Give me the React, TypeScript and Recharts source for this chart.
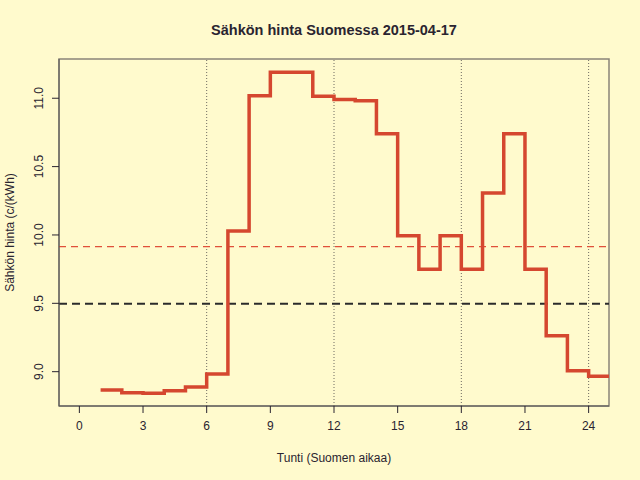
import React from "react";
import {
  LineChart,
  Line,
  XAxis,
  YAxis,
  ReferenceLine,
  ReferenceArea,
  Label,
} from "recharts";

// hourly spot price, c/kWh (hour 25 repeats the last hour so the step runs to the edge)
const hours = [1, 2, 3, 4, 5, 6, 7, 8, 9, 10, 11, 12, 13, 14, 15, 16, 17, 18, 19, 20, 21, 22, 23, 24, 25];
const prices = [
  8.866, 8.846, 8.842, 8.861, 8.888, 8.983, 10.029, 11.019, 11.19, 11.19, 11.014, 10.99,
  10.982, 10.741, 9.995, 9.749, 9.995, 9.749, 10.307, 10.741, 9.749, 9.263, 9.007, 8.966, 8.966,
];
const xTicks = [0, 3, 6, 9, 12, 15, 18, 21, 24];
const yTicks = [9.0, 9.5, 10.0, 10.5, 11.0];
const gridHours = [6, 12, 18, 24];
const dayMean = 9.914;
const refMean = 9.497;

const xDomain: [number, number] = [-0.96, 24.96];
const yDomain: [number, number] = [8.749, 11.287];

const data = hours.map((h, i) => ({ hour: h, price: prices[i] }));

const FONT = "'Liberation Sans', Arial, sans-serif";
const BG = "#FFFACD";
const INK = "#2a2430";

const YTick = ({ x, y, payload }: { x?: number; y?: number; payload?: { value: number } }) => (
  <text
    x={(x ?? 0) - 7}
    y={y}
    transform={`rotate(-90, ${(x ?? 0) - 7}, ${y})`}
    textAnchor="middle"
    fontSize={12}
    fontFamily={FONT}
    fill={INK}
  >
    {payload ? payload.value.toFixed(1) : ""}
  </text>
);

export default function App() {
  return (
    <div style={{ position: "fixed", left: 0, top: 0, width: 640, height: 480, background: BG }}>
      <div
        style={{
          position: "absolute",
          left: 59,
          width: 550,
          top: 22,
          textAlign: "center",
          fontFamily: FONT,
          fontWeight: "bold",
          fontSize: 14.5,
          color: INK,
        }}
      >
        Sähkön hinta Suomessa 2015-04-17
      </div>
      <LineChart width={640} height={480} data={data} margin={{ top: 59, right: 31, bottom: 44, left: 7 }}>
        <ReferenceArea
          x1={xDomain[0]}
          x2={xDomain[1]}
          y1={yDomain[0]}
          y2={yDomain[1]}
          fill="none"
          stroke="#8a8478"
          strokeWidth={1.5}
          ifOverflow="visible"
        />
        <XAxis
          type="number"
          dataKey="hour"
          domain={xDomain}
          allowDataOverflow
          ticks={xTicks}
          interval={0}
          height={30}
          tickSize={7}
          tickMargin={8}
          stroke={INK}
          axisLine={{ stroke: "#555", strokeWidth: 1 }}
          tick={{ fill: INK, fontSize: 12, fontFamily: FONT }}
        >
          <Label
            content={({ viewBox }: any) => (
              <text
                x={viewBox.x + viewBox.width / 2}
                y={462}
                textAnchor="middle"
                fontSize={12}
                fontFamily={FONT}
                fill={INK}
              >
                Tunti (Suomen aikaa)
              </text>
            )}
          />
        </XAxis>
        <YAxis
          type="number"
          domain={yDomain}
          allowDataOverflow
          ticks={yTicks}
          interval={0}
          width={52}
          tickSize={7}
          stroke={INK}
          axisLine={{ stroke: "#555", strokeWidth: 1 }}
          tick={<YTick />}
        >
          <Label
            content={({ viewBox }: any) => {
              const cy = viewBox.y + viewBox.height / 2;
              return (
                <text
                  x={14}
                  y={cy}
                  transform={`rotate(-90, 14, ${cy})`}
                  textAnchor="middle"
                  fontSize={12}
                  fontFamily={FONT}
                  fill={INK}
                >
                  Sähkön hinta (c/(kWh)
                </text>
              );
            }}
          />
        </YAxis>
        {gridHours.map((h) => (
          <ReferenceLine key={h} x={h} stroke="#6e6a60" strokeWidth={1} strokeDasharray="1 2" />
        ))}
        <ReferenceLine y={dayMean} stroke="#e0503a" strokeWidth={1.3} strokeDasharray="7 5" />
        <ReferenceLine y={refMean} stroke="#2b2b2b" strokeWidth={1.8} strokeDasharray="8 5" />
        <Line
          type="stepAfter"
          dataKey="price"
          stroke="#d5472f"
          strokeWidth={3.5}
          dot={false}
          activeDot={false}
          isAnimationActive={false}
        />
      </LineChart>
    </div>
  );
}
